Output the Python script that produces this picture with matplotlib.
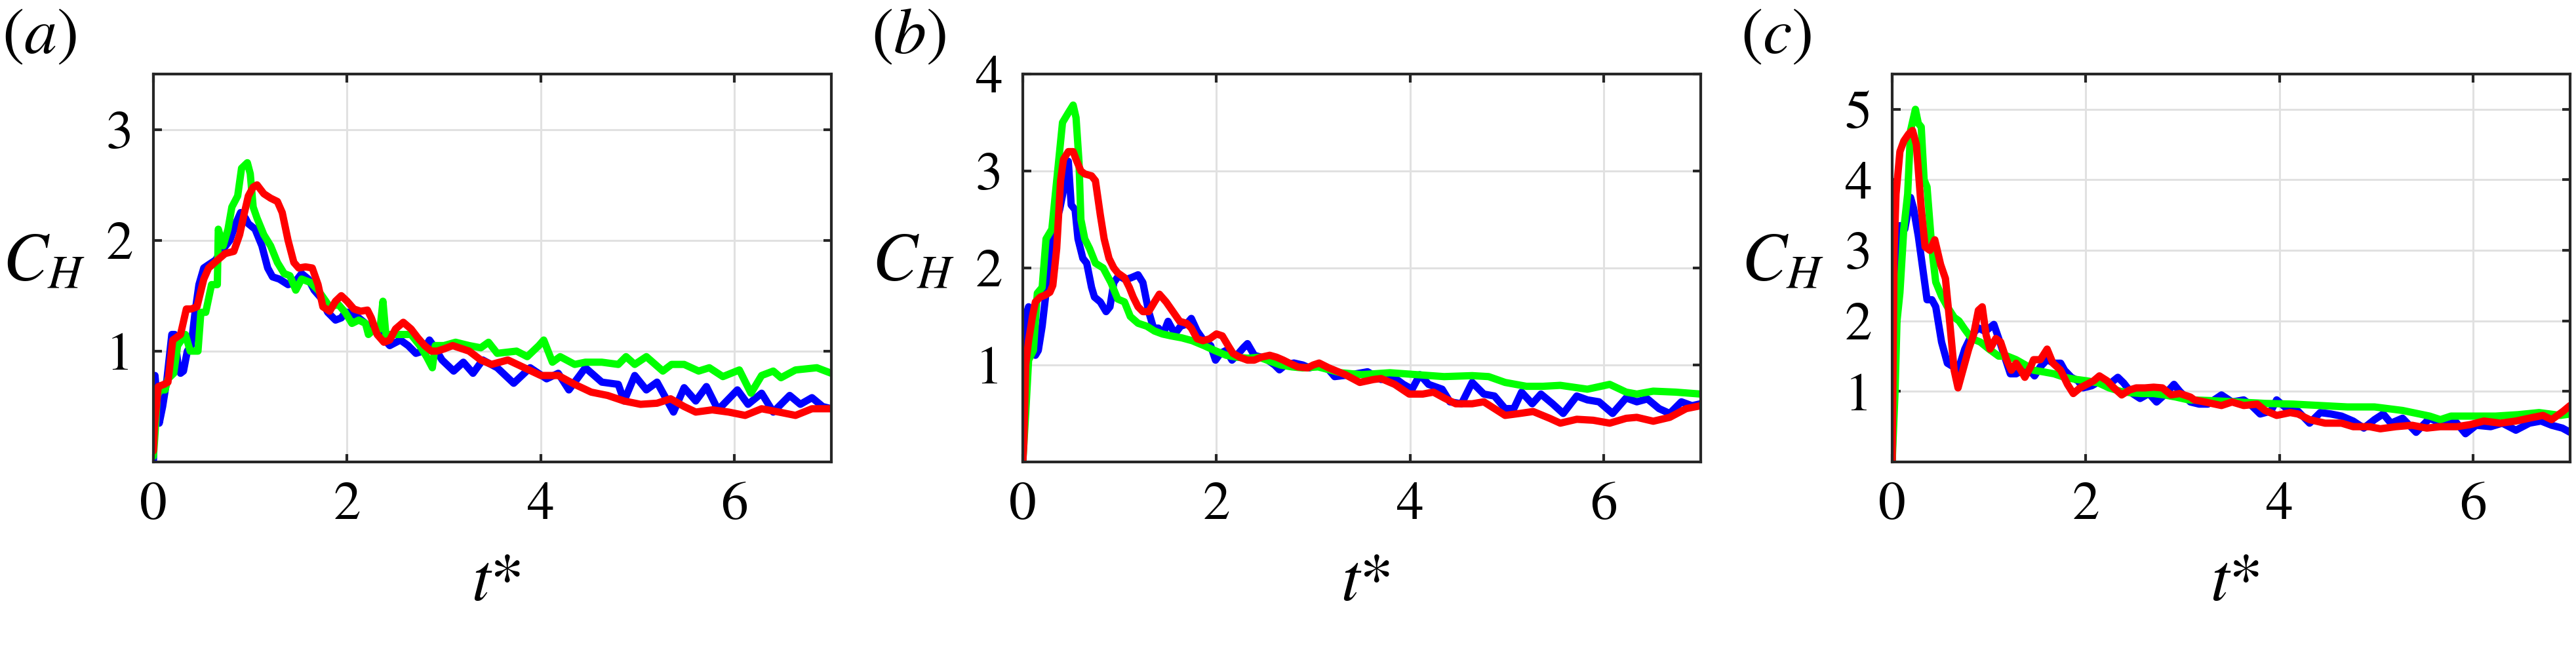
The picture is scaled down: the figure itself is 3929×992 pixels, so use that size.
import matplotlib
matplotlib.use("Agg")
import matplotlib.pyplot as plt

plt.rcParams['font.family'] = ['STIXGeneral', 'Liberation Serif', 'DejaVu Serif']
plt.rcParams['mathtext.fontset'] = 'stix'

# ---- panel (a) ----
a_blue_t = [0.0, 0.016, 0.06, 0.095, 0.14, 0.19, 0.22, 0.25, 0.28, 0.31, 0.35, 0.39, 0.43, 0.47, 0.52, 0.57, 0.64, 0.72, 0.79, 0.85, 0.9, 0.95, 0.98, 1.05, 1.12, 1.18, 1.23, 1.3, 1.39, 1.46, 1.53, 1.6, 1.66, 1.73, 1.8, 1.88, 1.94, 1.98, 2.04, 2.12, 2.19, 2.25, 2.34, 2.44, 2.55, 2.63, 2.71, 2.78, 2.85, 2.89, 2.98, 3.1, 3.2, 3.3, 3.4, 3.55, 3.72, 3.89, 4.06, 4.18, 4.29, 4.46, 4.63, 4.8, 4.86, 4.97, 5.09, 5.2, 5.37, 5.48, 5.6, 5.71, 5.83, 6.03, 6.14, 6.28, 6.4, 6.57, 6.68, 6.8, 6.91, 7.0]
a_blue = [0.0, 0.78, 0.35, 0.5, 0.75, 1.15, 1.15, 0.9, 0.8, 0.82, 1.0, 1.05, 1.35, 1.6, 1.75, 1.78, 1.82, 1.92, 2.0, 2.15, 2.25, 2.2, 2.15, 2.1, 1.95, 1.75, 1.67, 1.65, 1.6, 1.62, 1.7, 1.65, 1.55, 1.48, 1.35, 1.28, 1.3, 1.35, 1.35, 1.3, 1.25, 1.2, 1.15, 1.05, 1.1, 1.05, 0.98, 1.0, 1.1, 1.05, 0.92, 0.82, 0.9, 0.8, 0.92, 0.85, 0.71, 0.85, 0.75, 0.8, 0.65, 0.85, 0.72, 0.7, 0.55, 0.78, 0.65, 0.72, 0.45, 0.67, 0.55, 0.68, 0.47, 0.65, 0.52, 0.62, 0.45, 0.6, 0.52, 0.58, 0.5, 0.48]

a_green_t = [0.0, 0.02, 0.04, 0.07, 0.12, 0.15, 0.21, 0.25, 0.33, 0.38, 0.46, 0.49, 0.54, 0.6, 0.66, 0.67, 0.72, 0.77, 0.81, 0.87, 0.91, 0.97, 1.0, 1.03, 1.07, 1.14, 1.21, 1.28, 1.35, 1.41, 1.47, 1.53, 1.62, 1.7, 1.78, 1.82, 1.91, 1.98, 2.05, 2.12, 2.19, 2.22, 2.28, 2.34, 2.37, 2.4, 2.48, 2.57, 2.66, 2.75, 2.82, 2.88, 2.91, 3.0, 3.12, 3.26, 3.38, 3.46, 3.55, 3.75, 3.86, 3.98, 4.03, 4.12, 4.2, 4.35, 4.46, 4.63, 4.8, 4.88, 4.97, 5.09, 5.26, 5.35, 5.48, 5.63, 5.74, 5.88, 6.05, 6.17, 6.28, 6.4, 6.48, 6.63, 6.85, 7.0]
a_green = [0.05, 0.3, 0.6, 0.65, 0.65, 0.75, 0.8, 1.05, 1.15, 1.0, 1.0, 1.35, 1.35, 1.6, 1.6, 2.1, 1.95, 2.1, 2.3, 2.4, 2.65, 2.7, 2.6, 2.3, 2.2, 2.05, 1.95, 1.8, 1.7, 1.68, 1.55, 1.65, 1.62, 1.55, 1.45, 1.4, 1.42, 1.35, 1.25, 1.28, 1.25, 1.15, 1.2, 1.2, 1.45, 1.15, 1.15, 1.15, 1.15, 1.05, 0.95, 0.85, 1.05, 1.05, 1.08, 1.05, 1.03, 1.08, 0.98, 1.0, 0.95, 1.05, 1.1, 0.9, 0.95, 0.88, 0.9, 0.9, 0.88, 0.95, 0.88, 0.95, 0.82, 0.88, 0.88, 0.82, 0.85, 0.77, 0.83, 0.62, 0.78, 0.82, 0.76, 0.83, 0.85, 0.8]

a_red_t = [0.0, 0.01, 0.05, 0.11, 0.15, 0.2, 0.28, 0.34, 0.39, 0.45, 0.52, 0.57, 0.66, 0.74, 0.83, 0.89, 0.94, 0.98, 1.03, 1.07, 1.14, 1.21, 1.28, 1.33, 1.39, 1.45, 1.5, 1.57, 1.64, 1.7, 1.75, 1.82, 1.88, 1.94, 2.0, 2.07, 2.14, 2.21, 2.25, 2.31, 2.38, 2.44, 2.5, 2.58, 2.66, 2.73, 2.8, 2.87, 2.93, 3.0, 3.09, 3.26, 3.38, 3.49, 3.66, 3.83, 4.0, 4.18, 4.35, 4.52, 4.69, 4.86, 5.03, 5.2, 5.34, 5.48, 5.6, 5.77, 5.94, 6.11, 6.28, 6.46, 6.63, 6.8, 7.0]
a_red = [0.1, 0.32, 0.68, 0.7, 0.72, 1.1, 1.15, 1.38, 1.38, 1.4, 1.65, 1.75, 1.82, 1.88, 1.9, 2.05, 2.25, 2.4, 2.48, 2.5, 2.42, 2.38, 2.35, 2.25, 2.0, 1.8, 1.75, 1.76, 1.75, 1.6, 1.4, 1.36, 1.45, 1.5, 1.45, 1.38, 1.36, 1.37, 1.3, 1.15, 1.08, 1.1, 1.2, 1.26, 1.2, 1.12, 1.05, 1.0, 1.0, 1.02, 1.05, 1.0, 0.92, 0.88, 0.92, 0.85, 0.78, 0.78, 0.7, 0.63, 0.6, 0.55, 0.52, 0.53, 0.57, 0.5, 0.45, 0.47, 0.45, 0.42, 0.48, 0.45, 0.42, 0.48, 0.48]

# ---- panel (b) ----
b_blue_t = [0.0, 0.03, 0.06, 0.1, 0.13, 0.16, 0.2, 0.24, 0.29, 0.32, 0.38, 0.44, 0.47, 0.5, 0.54, 0.57, 0.62, 0.66, 0.71, 0.74, 0.8, 0.86, 0.9, 0.94, 0.99, 1.06, 1.12, 1.19, 1.24, 1.3, 1.35, 1.4, 1.45, 1.5, 1.57, 1.63, 1.69, 1.74, 1.8, 1.87, 1.94, 1.99, 2.04, 2.1, 2.16, 2.21, 2.28, 2.32, 2.39, 2.46, 2.53, 2.6, 2.65, 2.71, 2.8, 2.89, 2.96, 3.05, 3.16, 3.22, 3.39, 3.56, 3.7, 3.82, 3.93, 4.02, 4.1, 4.19, 4.33, 4.41, 4.53, 4.64, 4.76, 4.87, 4.98, 5.07, 5.15, 5.26, 5.35, 5.47, 5.58, 5.72, 5.83, 5.95, 6.09, 6.23, 6.34, 6.45, 6.57, 6.68, 6.8, 6.91, 7.0]
b_blue = [0.0, 1.5, 1.6, 1.2, 1.1, 1.15, 1.4, 1.75, 2.3, 2.4, 2.6, 2.9, 3.1, 2.65, 2.6, 2.3, 2.1, 2.05, 1.8, 1.7, 1.65, 1.55, 1.6, 1.85, 1.92, 1.88, 1.9, 1.93, 1.85, 1.55, 1.38, 1.38, 1.32, 1.45, 1.32, 1.4, 1.42, 1.48, 1.35, 1.25, 1.2, 1.05, 1.12, 1.15, 1.05, 1.1, 1.18, 1.22, 1.1, 1.08, 1.05, 1.0, 0.95, 1.0, 1.02, 1.0, 0.97, 1.0, 0.95, 0.88, 0.9, 0.93, 0.85, 0.88, 0.8, 0.75, 0.9, 0.8, 0.75, 0.62, 0.6, 0.82, 0.7, 0.68, 0.55, 0.55, 0.72, 0.6, 0.7, 0.6, 0.5, 0.68, 0.64, 0.62, 0.5, 0.66, 0.62, 0.65, 0.55, 0.5, 0.62, 0.58, 0.6]

b_green_t = [0.0, 0.03, 0.06, 0.11, 0.15, 0.2, 0.24, 0.3, 0.36, 0.41, 0.47, 0.52, 0.55, 0.58, 0.6, 0.64, 0.69, 0.75, 0.83, 0.91, 0.98, 1.05, 1.11, 1.19, 1.28, 1.36, 1.44, 1.53, 1.64, 1.75, 1.87, 1.98, 2.1, 2.21, 2.32, 2.44, 2.55, 2.66, 2.78, 2.89, 3.05, 3.28, 3.5, 3.79, 4.07, 4.35, 4.64, 4.81, 4.98, 5.2, 5.37, 5.55, 5.83, 6.06, 6.23, 6.34, 6.51, 6.74, 7.0]
b_green = [0.0, 0.5, 1.05, 1.15, 1.74, 1.8, 2.3, 2.4, 3.0, 3.5, 3.6, 3.68, 3.55, 3.1, 2.5, 2.3, 2.2, 2.05, 2.0, 1.85, 1.68, 1.65, 1.5, 1.43, 1.4, 1.35, 1.32, 1.3, 1.28, 1.25, 1.2, 1.15, 1.1, 1.08, 1.07, 1.08, 1.04, 1.0, 0.98, 0.97, 0.98, 0.92, 0.9, 0.92, 0.9, 0.88, 0.89, 0.88, 0.82, 0.78, 0.78, 0.79, 0.75, 0.8, 0.72, 0.7, 0.73, 0.72, 0.7]

b_red_t = [0.0, 0.01, 0.03, 0.06, 0.1, 0.13, 0.18, 0.23, 0.28, 0.31, 0.35, 0.39, 0.42, 0.47, 0.52, 0.55, 0.6, 0.64, 0.71, 0.75, 0.8, 0.84, 0.89, 0.94, 0.98, 1.05, 1.1, 1.14, 1.19, 1.24, 1.3, 1.36, 1.41, 1.48, 1.55, 1.62, 1.69, 1.74, 1.8, 1.86, 1.93, 2.0, 2.06, 2.12, 2.17, 2.24, 2.32, 2.39, 2.46, 2.55, 2.62, 2.69, 2.75, 2.84, 2.94, 3.0, 3.06, 3.16, 3.33, 3.48, 3.62, 3.7, 3.84, 3.99, 4.13, 4.24, 4.35, 4.47, 4.64, 4.76, 4.87, 4.98, 5.13, 5.27, 5.44, 5.55, 5.72, 5.89, 6.06, 6.23, 6.34, 6.51, 6.68, 6.85, 7.0]
b_red = [0.0, 0.18, 1.0, 1.25, 1.5, 1.65, 1.7, 1.72, 1.75, 1.82, 2.2, 2.9, 3.12, 3.2, 3.2, 3.12, 3.0, 2.97, 2.95, 2.9, 2.55, 2.3, 2.1, 2.0, 1.95, 1.9, 1.8, 1.7, 1.6, 1.55, 1.55, 1.65, 1.73, 1.65, 1.55, 1.45, 1.43, 1.38, 1.27, 1.25, 1.27, 1.32, 1.3, 1.2, 1.12, 1.08, 1.05, 1.05, 1.08, 1.1, 1.08, 1.05, 1.02, 0.98, 0.97, 1.0, 1.02, 0.97, 0.9, 0.82, 0.85, 0.86, 0.8, 0.7, 0.7, 0.72, 0.66, 0.6, 0.6, 0.62, 0.55, 0.48, 0.5, 0.52, 0.45, 0.4, 0.44, 0.43, 0.4, 0.45, 0.46, 0.42, 0.46, 0.55, 0.58]

# ---- panel (c) ----
c_blue_t = [0.0, 0.03, 0.08, 0.13, 0.19, 0.22, 0.27, 0.32, 0.36, 0.41, 0.45, 0.51, 0.57, 0.63, 0.68, 0.75, 0.82, 0.89, 0.96, 1.05, 1.1, 1.16, 1.22, 1.28, 1.35, 1.42, 1.47, 1.53, 1.6, 1.67, 1.74, 1.78, 1.85, 1.92, 1.97, 2.06, 2.15, 2.24, 2.33, 2.39, 2.47, 2.56, 2.65, 2.73, 2.81, 2.91, 2.97, 3.08, 3.17, 3.26, 3.4, 3.51, 3.63, 3.71, 3.8, 3.91, 3.97, 4.08, 4.19, 4.31, 4.42, 4.53, 4.64, 4.76, 4.87, 4.98, 5.07, 5.15, 5.27, 5.41, 5.55, 5.66, 5.8, 5.92, 6.03, 6.18, 6.3, 6.44, 6.58, 6.7, 6.81, 6.92, 7.0]
c_blue = [0.0, 2.0, 3.35, 3.3, 3.75, 3.6, 3.2, 2.7, 2.3, 2.3, 2.2, 1.7, 1.4, 1.35, 1.3, 1.6, 1.8, 1.9, 1.85, 1.95, 1.75, 1.5, 1.25, 1.25, 1.3, 1.3, 1.22, 1.35, 1.45, 1.4, 1.4, 1.3, 1.2, 1.15, 1.05, 1.08, 1.15, 1.1, 1.2, 1.12, 0.98, 0.9, 0.97, 0.85, 0.95, 1.1, 1.0, 0.85, 0.82, 0.82, 0.95, 0.85, 0.88, 0.8, 0.68, 0.72, 0.88, 0.75, 0.72, 0.55, 0.7, 0.68, 0.65, 0.58, 0.48, 0.6, 0.68, 0.55, 0.62, 0.42, 0.62, 0.55, 0.6, 0.4, 0.52, 0.5, 0.55, 0.45, 0.55, 0.58, 0.52, 0.48, 0.42]

c_green_t = [0.0, 0.03, 0.05, 0.08, 0.12, 0.16, 0.19, 0.24, 0.27, 0.3, 0.33, 0.36, 0.4, 0.42, 0.45, 0.51, 0.57, 0.64, 0.69, 0.75, 0.82, 0.91, 1.0, 1.1, 1.19, 1.28, 1.37, 1.46, 1.55, 1.67, 1.78, 1.9, 2.01, 2.13, 2.24, 2.36, 2.47, 2.58, 2.7, 2.81, 2.93, 3.06, 3.29, 3.57, 3.85, 4.14, 4.42, 4.7, 4.98, 5.27, 5.55, 5.66, 5.77, 6.0, 6.23, 6.46, 6.68, 6.9, 7.0]
c_green = [0.0, 1.0, 2.0, 2.4, 3.3, 3.8, 4.7, 5.0, 4.8, 4.75, 4.0, 3.9, 3.2, 2.9, 2.55, 2.35, 2.2, 2.05, 2.0, 1.88, 1.75, 1.7, 1.6, 1.5, 1.5, 1.45, 1.38, 1.3, 1.28, 1.25, 1.2, 1.17, 1.15, 1.12, 1.05, 1.0, 0.98, 0.97, 0.97, 0.95, 0.92, 0.88, 0.87, 0.85, 0.83, 0.82, 0.8, 0.78, 0.78, 0.73, 0.65, 0.6, 0.65, 0.65, 0.65, 0.67, 0.7, 0.66, 0.68]

c_red_t = [0.0, 0.02, 0.04, 0.08, 0.12, 0.17, 0.21, 0.25, 0.3, 0.34, 0.39, 0.44, 0.5, 0.55, 0.6, 0.64, 0.68, 0.73, 0.79, 0.84, 0.89, 0.93, 0.97, 1.01, 1.07, 1.12, 1.18, 1.23, 1.28, 1.33, 1.37, 1.43, 1.46, 1.53, 1.6, 1.66, 1.74, 1.81, 1.87, 1.94, 2.01, 2.08, 2.14, 2.22, 2.29, 2.37, 2.45, 2.52, 2.61, 2.7, 2.79, 2.88, 2.97, 3.08, 3.12, 3.23, 3.4, 3.51, 3.63, 3.77, 3.85, 3.97, 4.11, 4.19, 4.31, 4.47, 4.64, 4.76, 4.93, 5.04, 5.2, 5.37, 5.52, 5.66, 5.83, 5.97, 6.11, 6.28, 6.44, 6.61, 6.72, 6.81, 6.93, 7.0]
c_red = [0.0, 3.0, 3.8, 4.4, 4.55, 4.65, 4.7, 4.5, 3.6, 3.05, 3.0, 3.15, 2.8, 2.6, 1.9, 1.3, 1.05, 1.3, 1.6, 1.8, 2.15, 2.2, 1.8, 1.6, 1.75, 1.7, 1.45, 1.3, 1.4, 1.3, 1.2, 1.35, 1.45, 1.45, 1.6, 1.4, 1.3, 1.1, 0.97, 1.05, 1.1, 1.15, 1.22, 1.15, 1.05, 0.95, 1.02, 1.05, 1.05, 1.06, 1.05, 0.95, 0.97, 0.92, 0.88, 0.85, 0.8, 0.85, 0.8, 0.82, 0.73, 0.66, 0.7, 0.68, 0.6, 0.55, 0.55, 0.5, 0.5, 0.47, 0.5, 0.52, 0.48, 0.5, 0.5, 0.53, 0.58, 0.55, 0.58, 0.63, 0.66, 0.6, 0.72, 0.8]

panel_labels = ['a', 'b', 'c']
y_tops = [3.5, 4.0, 5.5]
y_ticks = [[1, 2, 3], [1, 2, 3, 4], [1, 2, 3, 4, 5]]
x_ticks = [0, 2, 4, 6]

curves = [
    [(a_blue_t, a_blue), (a_green_t, a_green), (a_red_t, a_red)],
    [(b_blue_t, b_blue), (b_green_t, b_green), (b_red_t, b_red)],
    [(c_blue_t, c_blue), (c_green_t, c_green), (c_red_t, c_red)],
]
colors = ['#0000ff', '#00ff00', '#ff0000']

W, H = 3929, 992
fig = plt.figure(figsize=(W / 100, H / 100), dpi=100)
lefts = [234, 1560, 2886]
ax_w, ax_top, ax_bot = 1034, 113, 705

for i in range(3):
    ax = fig.add_axes([lefts[i] / W, 1 - ax_bot / H, ax_w / W, (ax_bot - ax_top) / H])
    for (t, y), col in zip(curves[i], colors):
        ax.plot(t, y, color=col, lw=8, solid_joinstyle='round', solid_capstyle='round', zorder=3)
    ax.set_xlim(0, 7)
    ax.set_ylim(0, y_tops[i])
    ax.set_xticks(x_ticks)
    ax.set_yticks(y_ticks[i])
    ax.grid(True, color='#e1e1e1', lw=2.2, zorder=0)
    ax.set_axisbelow(True)
    ax.tick_params(direction='in', length=9, width=3, top=True, right=True,
                   labelsize=60, pad=22, color='#262626')
    for s in ax.spines.values():
        s.set_linewidth(3)
        s.set_color('#262626')
        s.set_zorder(5)
    ax.text(-0.222, 0.51, r'$C_H$', transform=ax.transAxes, fontsize=74,
            ha='left', va='center')
    ax.text(0.505, -0.315, r'$t$*', transform=ax.transAxes, fontsize=74,
            ha='center', va='center')
    fig.text((lefts[i] - 231) / W, 1 - 58 / H, r'($' + panel_labels[i] + '$)', fontsize=72,
             ha='left', va='center')

fig.savefig('out.png', dpi=100)
